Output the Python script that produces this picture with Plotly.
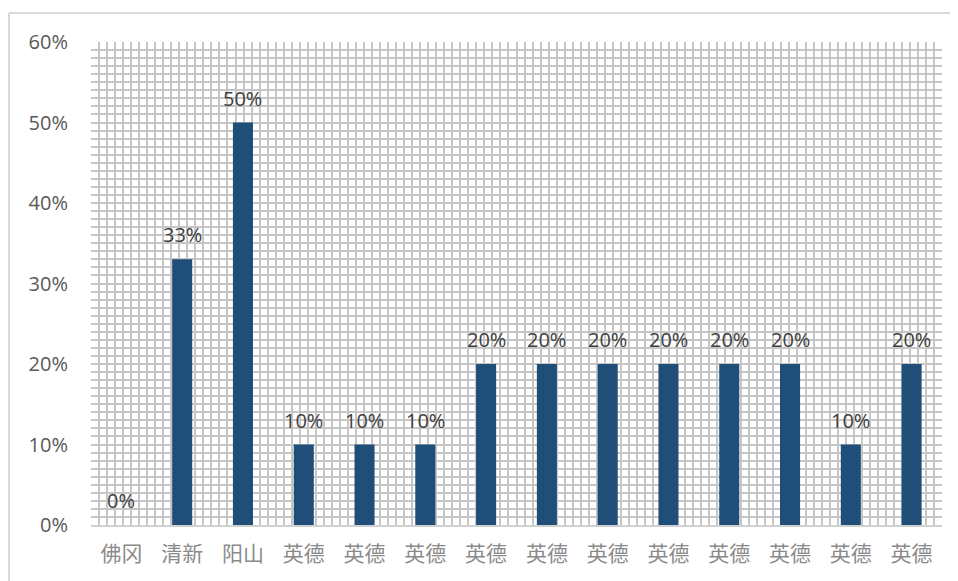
import plotly.graph_objects as go

categories = ["佛冈", "清新", "阳山", "英德", "英德", "英德", "英德", "英德", "英德", "英德", "英德", "英德", "英德", "英德"]
values = [0.0, 0.33, 0.50, 0.10, 0.10, 0.10, 0.20, 0.20, 0.20, 0.20, 0.20, 0.20, 0.10, 0.20]
y_ticks = [0, 0.1, 0.2, 0.3, 0.4, 0.5, 0.6]
y_tick_labels = ["0%", "10%", "20%", "30%", "40%", "50%", "60%"]

positions = list(range(len(categories)))

# page body has an 8px default margin, so the figure is shifted by 8px
OFF = 8
W, H = 958 - OFF, 581 - OFF
L, R, T, B = 91 - OFF, 16, 42 - OFF, 56
pw = W - L - R
ph = H - T - B

fig = go.Figure()
fig.add_trace(go.Bar(
    x=positions, y=values,
    marker=dict(color="#1f4e79", line=dict(width=0)),
    width=0.33,
    hoverinfo="skip",
))

for xi, v in zip(positions, values):
    fig.add_annotation(
        x=xi, y=v, text=f"{round(v*100)}%", showarrow=False,
        yanchor="bottom", yshift=9,
        font=dict(family="Open Sans, Noto Sans", size=20, color="#404040"),
    )

grid_color = "#c6c6c6"
fig.update_layout(
    width=W, height=H,
    margin=dict(l=L, r=R, t=T, b=B),
    paper_bgcolor="white",
    plot_bgcolor="white",
    showlegend=False,
    xaxis=dict(
        range=[-0.5, len(categories) - 0.5],
        tickvals=positions, ticktext=categories,
        tickfont=dict(family="Noto Sans CJK SC", size=21, color="#8a8a8a"),
        showgrid=False, zeroline=False,
        showline=True, linecolor="#d0d0d0", linewidth=2,
        ticks="", ticklabelstandoff=9,
        minor=dict(showgrid=True, gridcolor=grid_color, gridwidth=1.7,
                   tick0=-0.5, dtick=14 / 106),
    ),
    yaxis=dict(
        range=[0, 0.6],
        tickvals=y_ticks, ticktext=y_tick_labels,
        tickfont=dict(family="Open Sans, Noto Sans", size=20, color="#595959"),
        showgrid=True, gridcolor=grid_color, gridwidth=1.7,
        zeroline=False, ticks="", ticklabelstandoff=22,
        minor=dict(showgrid=True, gridcolor=grid_color, gridwidth=1.7,
                   tick0=0, dtick=0.01),
    ),
    shapes=[
        dict(type="line", xref="paper", yref="paper",
             x0=(1 - L) / pw, x1=1.2, y0=(H - B - 5) / ph, y1=(H - B - 5) / ph,
             line=dict(color="#d9d9d9", width=2)),
        dict(type="line", xref="paper", yref="paper",
             x0=(1 - L) / pw, x1=(1 - L) / pw, y0=(H - B - 5) / ph, y1=-0.2,
             line=dict(color="#d9d9d9", width=2)),
    ],
)

fig.write_html("out.html")
